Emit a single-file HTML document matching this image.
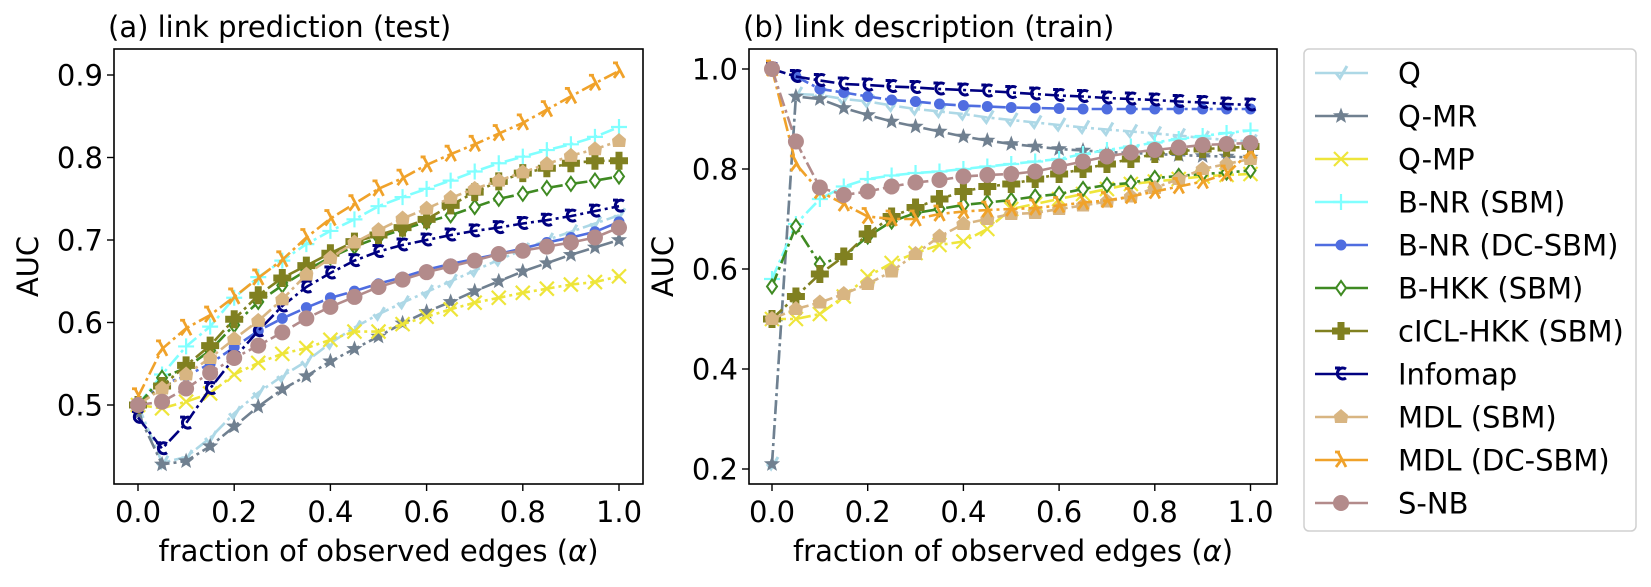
<!DOCTYPE html>
<html><head><meta charset="utf-8"><style>
html,body{margin:0;padding:0;background:#fff;}
svg text{font-family:"DejaVu Sans","Liberation Sans",sans-serif;fill:#000;}
</style></head><body>
<svg id="chart" width="1651" height="582" viewBox="0 0 1651 582" xmlns="http://www.w3.org/2000/svg">
<g id="axes"></g>
<g id="marks"></g>
<g id="legend"></g>
</svg>
<script>
const alphas = [0,0.05,0.1,0.15,0.2,0.25,0.3,0.35,0.4,0.45,0.5,0.55,0.6,0.65,0.7,0.75,0.8,0.85,0.9,0.95,1.0];
const seriesNames = ["Q","Q-MR","Q-MP","B-NR (SBM)","B-NR (DC-SBM)","B-HKK (SBM)","cICL-HKK (SBM)","Infomap","MDL (SBM)","MDL (DC-SBM)","S-NB"];
const xTicks = [0,0.2,0.4,0.6,0.8,1.0];
const xTickLabels = ["0.0","0.2","0.4","0.6","0.8","1.0"];
const leftYTicks = [0.5,0.6,0.7,0.8,0.9];
const leftYTickLabels = ["0.5","0.6","0.7","0.8","0.9"];
const rightYTicks = [0.2,0.4,0.6,0.8,1.0];
const rightYTickLabels = ["0.2","0.4","0.6","0.8","1.0"];

// (a) link prediction (test)
const testQ    = [0.50,0.43,0.437,0.46,0.49,0.515,0.535,0.553,0.575,0.594,0.61,0.624,0.637,0.65,0.663,0.676,0.688,0.70,0.71,0.72,0.73];
const testQMR  = [0.49,0.428,0.432,0.45,0.474,0.498,0.519,0.535,0.553,0.568,0.583,0.599,0.613,0.625,0.638,0.65,0.662,0.672,0.682,0.691,0.70];
const testQMP  = [0.50,0.496,0.504,0.514,0.537,0.551,0.562,0.569,0.579,0.589,0.589,0.598,0.607,0.616,0.624,0.63,0.636,0.641,0.646,0.649,0.656];
const testBNR  = [0.50,0.537,0.571,0.595,0.63,0.655,0.675,0.695,0.711,0.725,0.741,0.752,0.762,0.772,0.783,0.793,0.801,0.809,0.816,0.825,0.837];
const testBNRDC= [0.50,0.525,0.535,0.55,0.57,0.59,0.605,0.618,0.63,0.638,0.647,0.655,0.664,0.671,0.677,0.683,0.69,0.697,0.703,0.71,0.722];
const testBHKK = [0.50,0.533,0.545,0.566,0.597,0.625,0.645,0.663,0.679,0.692,0.703,0.713,0.722,0.73,0.74,0.75,0.756,0.763,0.768,0.772,0.777];
const testCICL = [0.50,0.523,0.548,0.572,0.604,0.633,0.654,0.669,0.684,0.698,0.706,0.715,0.725,0.742,0.758,0.771,0.781,0.787,0.793,0.796,0.796];
const testInfo = [0.485,0.447,0.478,0.52,0.557,0.59,0.62,0.643,0.66,0.675,0.686,0.694,0.70,0.706,0.711,0.715,0.72,0.724,0.729,0.735,0.741];
const testMDL  = [0.50,0.52,0.537,0.557,0.58,0.602,0.628,0.658,0.678,0.697,0.712,0.726,0.738,0.751,0.762,0.772,0.782,0.792,0.802,0.81,0.82];
const testMDLDC= [0.51,0.568,0.593,0.609,0.631,0.654,0.676,0.703,0.726,0.744,0.762,0.775,0.791,0.804,0.816,0.829,0.842,0.858,0.874,0.89,0.905];
const testSNB  = [0.50,0.504,0.52,0.539,0.557,0.572,0.588,0.605,0.619,0.631,0.643,0.652,0.661,0.668,0.675,0.683,0.687,0.692,0.697,0.703,0.715];

// (b) link description (train)
const trainQ    = [0.21,0.95,0.948,0.94,0.935,0.927,0.92,0.915,0.91,0.903,0.898,0.893,0.888,0.883,0.879,0.875,0.871,0.867,0.862,0.858,0.855];
const trainQMR  = [0.21,0.945,0.94,0.922,0.908,0.895,0.885,0.875,0.865,0.857,0.85,0.845,0.84,0.837,0.834,0.832,0.83,0.828,0.826,0.825,0.823];
const trainQMP  = [0.50,0.50,0.51,0.545,0.585,0.612,0.632,0.648,0.655,0.68,0.72,0.73,0.74,0.75,0.76,0.77,0.775,0.78,0.785,0.788,0.79];
const trainBNR  = [0.58,0.69,0.74,0.765,0.78,0.787,0.792,0.795,0.80,0.805,0.81,0.815,0.82,0.83,0.838,0.845,0.853,0.86,0.866,0.872,0.877];
const trainBNRDC= [1.0,0.985,0.96,0.953,0.945,0.938,0.935,0.93,0.927,0.925,0.923,0.922,0.921,0.92,0.92,0.92,0.92,0.92,0.92,0.92,0.92];
const trainBHKK = [0.565,0.685,0.61,0.625,0.665,0.695,0.712,0.72,0.728,0.733,0.738,0.745,0.75,0.76,0.768,0.772,0.782,0.786,0.79,0.793,0.797];
const trainCICL = [0.50,0.545,0.59,0.625,0.67,0.705,0.723,0.74,0.755,0.765,0.77,0.78,0.79,0.80,0.81,0.82,0.83,0.835,0.84,0.842,0.845];
const trainInfo = [1.0,0.985,0.977,0.97,0.968,0.965,0.963,0.96,0.958,0.956,0.953,0.95,0.947,0.945,0.942,0.94,0.938,0.935,0.933,0.93,0.928];
const trainMDL  = [0.50,0.52,0.533,0.55,0.57,0.595,0.63,0.665,0.69,0.70,0.71,0.712,0.72,0.727,0.735,0.745,0.762,0.78,0.80,0.81,0.82];
const trainMDLDC= [1.0,0.81,0.755,0.73,0.705,0.70,0.70,0.71,0.715,0.718,0.72,0.722,0.727,0.733,0.737,0.745,0.755,0.765,0.775,0.79,0.835];
const trainSNB  = [1.0,0.855,0.763,0.748,0.755,0.765,0.773,0.778,0.785,0.788,0.79,0.795,0.805,0.815,0.825,0.833,0.838,0.843,0.848,0.85,0.852];

const testData = [testQ,testQMR,testQMP,testBNR,testBNRDC,testBHKK,testCICL,testInfo,testMDL,testMDLDC,testSNB];
const trainData = [trainQ,trainQMR,trainQMP,trainBNR,trainBNRDC,trainBHKK,trainCICL,trainInfo,trainMDL,trainMDLDC,trainSNB];

const colors = ["#add8e6","#708090","#eee53a","#80ffff","#4f6de0","#3f8a22","#808020","#000080","#d8b582","#f0a22a","#b38b8b"];
const markers = ["check","star","x","plus","circleS","diamond","plusF","info","penta","lambda","circle"];

const NS="http://www.w3.org/2000/svg";
function mk(tag, attrs, parent){const e=document.createElementNS(NS,tag);for(const k in attrs)e.setAttribute(k,attrs[k]);parent.appendChild(e);return e;}

const FS=29;
const panels = [
  {key:"test", left:114,right:643,top:49,bottom:484, x0:138,x1:619, vmin:0.5,vmax:0.9, y0:405,y1:75, yt:leftYTicks, ytl:leftYTickLabels, data:testData, title:"(a) link prediction (test)", ylabX:28},
  {key:"train", left:749,right:1277,top:49,bottom:484, x0:772,x1:1250.5, vmin:0.2,vmax:1.0, y0:469,y1:69, yt:rightYTicks, ytl:rightYTickLabels, data:trainData, title:"(b) link description (train)", ylabX:663}
];
function xScale(p,a){return p.x0+(p.x1-p.x0)*a;}
function yScale(p,v){return p.y0+(p.y1-p.y0)*(v-p.vmin)/(p.vmax-p.vmin);}

function drawMarker(g,type,x,y,c){
  let e;
  switch(type){
    case "check": e=mk("path",{d:`M${x-5},${y} L${x-1},${y+5} L${x+6},${y-7}`,fill:"none",stroke:c,"stroke-width":3},g);break;
    case "star": {let pts=[];for(let i=0;i<10;i++){const r=i%2?3.6:8.5;const a=-Math.PI/2+i*Math.PI/5;pts.push((x+r*Math.cos(a)).toFixed(1)+","+(y+r*Math.sin(a)).toFixed(1));}
      e=mk("polygon",{points:pts.join(" "),fill:c},g);break;}
    case "x": e=mk("path",{d:`M${x-7},${y-7}L${x+7},${y+7}M${x-7},${y+7}L${x+7},${y-7}`,stroke:c,"stroke-width":2.2},g);break;
    case "plus": e=mk("path",{d:`M${x-8},${y}L${x+8},${y}M${x},${y-8}L${x},${y+8}`,stroke:c,"stroke-width":2.2},g);break;
    case "circleS": e=mk("circle",{cx:x,cy:y,r:5.5,fill:c},g);break;
    case "diamond": e=mk("polygon",{points:`${x},${y-7} ${x+5},${y} ${x},${y+7} ${x-5},${y}`,fill:"#fff",stroke:c,"stroke-width":2},g);break;
    case "plusF": e=mk("path",{d:`M${x-3.5},${y-9}h7v5.5h5.5v7h-5.5v5.5h-7v-5.5h-5.5v-7h5.5z`,fill:c},g);break;
    case "info": e=mk("path",{d:`M${x+5},${y-5} A5.5,5.5 0 1 0 ${x+5},${y+4} M${x-6},${y-6}L${x-1},${y-6}`,fill:"none",stroke:c,"stroke-width":3},g);break;
    case "penta": e=mk("polygon",{points:`${x},${y-8} ${x+7},${y-2} ${x+6},${y+6} ${x-6},${y+6} ${x-7},${y-2}`,fill:c},g);break;
    case "lambda": e=mk("path",{d:`M${x-3},${y-8}L${x+5},${y+7}M${x+1},${y-1}L${x-5},${y+7}M${x-6},${y-8}L${x-1},${y-8}`,fill:"none",stroke:c,"stroke-width":2.8},g);break;
    case "circle": e=mk("circle",{cx:x,cy:y,r:8,fill:c},g);break;
  }
  
  
}

const axesG=document.getElementById("axes");
const marksG=document.getElementById("marks");
panels.forEach(p=>{
  const frame=mk("rect",{x:p.left,y:p.top,width:p.right-p.left,height:p.bottom-p.top,fill:"none",stroke:"#000","stroke-width":1.6},axesG);
  
  
  const t=mk("text",{x:p.left-6,y:37,"font-size":FS},axesG);t.textContent=p.title;
  
  
  xTicks.forEach((a,i)=>{const x=xScale(p,a);
    mk("line",{x1:x,x2:x,y1:p.bottom,y2:p.bottom+7,stroke:"#000","stroke-width":1.4},axesG);
    const tl=mk("text",{x:x,y:p.bottom+38,"font-size":FS,"text-anchor":"middle"},axesG);tl.textContent=xTickLabels[i];
    
    
  });
  p.yt.forEach((v,i)=>{const y=yScale(p,v);
    mk("line",{x1:p.left-7,x2:p.left,y1:y,y2:y,stroke:"#000","stroke-width":1.4},axesG);
    const tl=mk("text",{x:p.left-11,y:y+10.5,"font-size":FS,"text-anchor":"end"},axesG);tl.textContent=p.ytl[i];
    
    
  });
  const xl=mk("text",{x:(p.left+p.right)/2,y:561,"font-size":FS,"text-anchor":"middle"},axesG);
  xl.textContent="fraction of observed edges (";
  const ts=mk("tspan",{"font-style":"italic"},xl);ts.textContent="α";
  xl.appendChild(document.createTextNode(")"));
  
  
  const yl=mk("text",{x:p.ylabX,y:(p.top+p.bottom)/2,"font-size":FS,"text-anchor":"middle",transform:`rotate(-90 ${p.ylabX} ${(p.top+p.bottom)/2})`,dy:10},axesG);
  yl.textContent="AUC";
  
  

  p.data.forEach((vals,si)=>{
    const g=mk("g",{},marksG);
    
    
    const d=vals.map((v,i)=>(i?"L":"M")+xScale(p,alphas[i]).toFixed(1)+","+yScale(p,v).toFixed(1)).join("");
    mk("path",{d:d,fill:"none",stroke:colors[si],"stroke-width":2.6,"stroke-dasharray":"14,4,3,4"},g);
    vals.forEach((v,i)=>drawMarker(g,markers[si],xScale(p,alphas[i]),yScale(p,v),colors[si]));
  });
});

const legG=document.getElementById("legend");
const box=mk("rect",{x:1304,y:49,width:332,height:482,rx:5,fill:"#fff",stroke:"#d0d0d0","stroke-width":1.5},legG);


seriesNames.forEach((n,i)=>{
  const y=73+i*43;
  const g=mk("g",{},legG);
  
  
  mk("line",{x1:1315,x2:1368,y1:y,y2:y,stroke:colors[i],"stroke-width":2.6},g);
  drawMarker(g,markers[i],1341,y,colors[i]);
  const t=mk("text",{x:1398,y:y+10.5,"font-size":FS},g);t.textContent=n;
});
</script>
</body></html>
